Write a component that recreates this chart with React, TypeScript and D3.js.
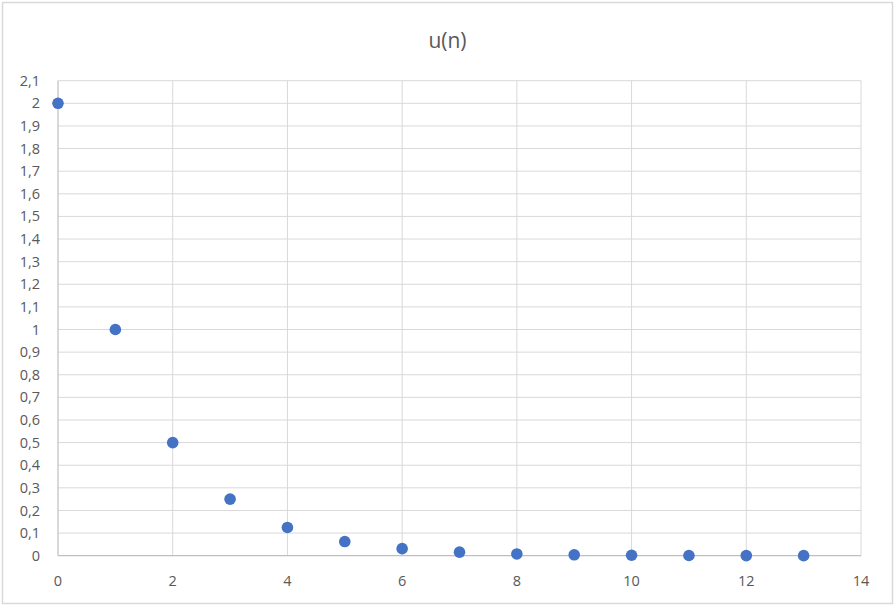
import React, { useEffect, useRef } from 'react';
import * as d3 from 'd3';

const nValues = [0, 1, 2, 3, 4, 5, 6, 7, 8, 9, 10, 11, 12, 13];
const uValues = [2, 1, 0.5, 0.25, 0.125, 0.0625, 0.03125, 0.015625, 0.0078125, 0.00390625, 0.001953125, 0.0009765625, 0.00048828125, 0.000244140625];
const xTicks = [0, 2, 4, 6, 8, 10, 12, 14];
const yTicks = d3.range(0, 22).map((i) => i / 10);
const title = 'u(n)';

const W = 895;
const H = 606;

const App: React.FC = () => {
  const svgRef = useRef<SVGSVGElement>(null);

  useEffect(() => {
    if (!svgRef.current) return;
    const svg = d3.select(svgRef.current);
    svg.selectAll('*').remove();

    const left = 58, right = 861, top = 80.7, bottom = 555.7;
    const x = d3.scaleLinear().domain([0, 14]).range([left, right]);
    const y = d3.scaleLinear().domain([0, 2.1]).range([bottom, top]);
    const font = "'Open Sans', 'Noto Sans', sans-serif";
    const fmt = (v: number) => d3.format('.1~f')(v).replace('.', ',');

    // chart frame
    svg.append('rect')
      .attr('x', 2.5).attr('y', 2.5)
      .attr('width', W - 5).attr('height', H - 5)
      .attr('fill', '#fff').attr('stroke', '#d9d9d9').attr('stroke-width', 1.5);

    svg.append('text')
      .attr('x', W / 2).attr('y', 48)
      .attr('text-anchor', 'middle')
      .attr('font-family', font).attr('font-size', 21)
      .attr('fill', '#595959')
      .text(title);

    // gridlines
    svg.append('g').selectAll('line')
      .data(yTicks.filter((d) => d > 0))
      .enter().append('line')
      .attr('x1', left).attr('x2', right)
      .attr('y1', (d) => y(d)).attr('y2', (d) => y(d))
      .attr('stroke', '#d9d9d9').attr('stroke-width', 1);

    svg.append('g').selectAll('line')
      .data(xTicks.filter((d) => d > 0))
      .enter().append('line')
      .attr('x1', (d) => x(d)).attr('x2', (d) => x(d))
      .attr('y1', top).attr('y2', bottom)
      .attr('stroke', '#d9d9d9').attr('stroke-width', 1);

    // axis lines
    svg.append('line')
      .attr('x1', left).attr('x2', right).attr('y1', bottom).attr('y2', bottom)
      .attr('stroke', '#bfbfbf').attr('stroke-width', 1.2);
    svg.append('line')
      .attr('x1', left).attr('x2', left).attr('y1', top).attr('y2', bottom)
      .attr('stroke', '#bfbfbf').attr('stroke-width', 1.2);

    // tick labels
    svg.append('g').selectAll('text')
      .data(yTicks)
      .enter().append('text')
      .attr('x', 40).attr('y', (d) => y(d))
      .attr('dy', '0.35em')
      .attr('text-anchor', 'end')
      .attr('font-family', font).attr('font-size', 14.5)
      .attr('fill', '#595959')
      .text((d) => fmt(d));

    svg.append('g').selectAll('text')
      .data(xTicks)
      .enter().append('text')
      .attr('x', (d) => x(d)).attr('y', bottom + 25)
      .attr('dy', '0.35em')
      .attr('text-anchor', 'middle')
      .attr('font-family', font).attr('font-size', 14.5)
      .attr('fill', '#595959')
      .text((d) => String(d));

    // points
    svg.append('g').selectAll('circle')
      .data(nValues.map((n, i) => ({ n, u: uValues[i] })))
      .enter().append('circle')
      .attr('cx', (d) => x(d.n)).attr('cy', (d) => y(d.u))
      .attr('r', 5.8)
      .attr('fill', '#4472C4');
  }, []);

  return (
    <svg
      ref={svgRef}
      width={W}
      height={H}
      style={{ position: 'absolute', left: 0, top: 0, display: 'block' }}
    />
  );
};

export default App;
